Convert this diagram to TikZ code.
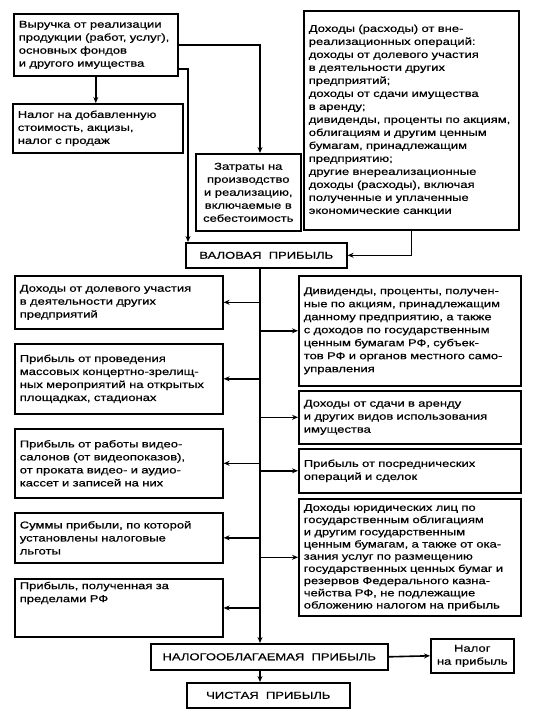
\documentclass[tikz,border=0pt]{standalone}
\usepackage{fontspec}
\setmainfont{Liberation Sans}[FakeStretch=1.3, FakeBold=0.6]
\usetikzlibrary{arrows.meta,positioning}

\newcommand{\boxfont}{\fontsize{10}{13}\selectfont}

\tikzset{
  % text box, lines set at the left
  infobox/.style={
    draw,
    line width=1.6pt,
    anchor=north west,
    align=left,
    inner xsep=5pt,
    inner ysep=3pt,
    font=\boxfont
  },
  % boxes of the left column
  leftbox/.style={
    infobox,
    text width=198pt,
    minimum width=208pt
  },
  % boxes of the right column
  rightbox/.style={
    infobox,
    text width=212pt,
    minimum width=222pt
  },
  % profit boxes, centred text
  sumbox/.style={
    draw,
    line width=1.6pt,
    anchor=north west,
    align=center,
    inner sep=3pt,
    font=\boxfont
  },
  % connector
  flow/.style={
    ->,
    >={Stealth[length=6pt, width=5pt]},
    line width=1.6pt
  }
}

\begin{document}
\begin{tikzpicture}[x=1pt, y=-1pt]
\useasboundingbox (0,0) rectangle (554,716);

%% === Sources of gross profit ===
\node[infobox, text width=154pt, minimum width=164pt, minimum height=62pt] (vyr) at (13,13)
  {Выручка от реализации\\продукции (работ, услуг),\\основных фондов\\и другого имущества};
\node[infobox, text width=160pt, minimum width=170pt, minimum height=49pt] (nds) at (12,103)
  {Налог на добавленную\\стоимость, акцизы,\\налог с продаж};
\node[sumbox, minimum width=105pt, minimum height=77pt] (zat) at (195,153)
  {Затраты на\\производство\\и реализацию,\\включаемые в\\себестоимость};
\node[infobox, text width=205pt, minimum width=215pt, minimum height=219pt] (doh) at (303,10)
  {Доходы (расходы) от вне-\\реализационных операций:\\доходы от долевого участия\\в деятельности других\\предприятий;\\доходы от сдачи имущества\\в аренду;\\дивиденды, проценты по акциям,\\облигациям и другим ценным\\бумагам, принадлежащим\\предприятию;\\другие внереализационные\\доходы (расходы), включая\\полученные и уплаченные\\экономические санкции};

\node[sumbox, minimum width=161pt, minimum height=25pt] (val) at (185,242) {ВАЛОВАЯ~~ПРИБЫЛЬ};

% trunk and side branch
\coordinate (trunk) at (260,0);
\coordinate (branch) at (188,0);

%% === Left column ===
\node[leftbox, minimum height=53pt] (l1) at (14,275)
  {Доходы от долевого участия\\в деятельности других\\предприятий};
\node[leftbox, minimum height=70pt] (l2) at (14,343)
  {Прибыль от проведения\\массовых концертно-зрелищ-\\ных мероприятий на открытых\\площадках, стадионах};
\node[leftbox, minimum height=69pt] (l3) at (14,428)
  {Прибыль от работы видео-\\салонов (от видеопоказов),\\от проката видео- и аудио-\\кассет и записей на них};
\node[leftbox, minimum height=50pt] (l4) at (14,512)
  {Суммы прибыли, по которой\\установлены налоговые\\льготы};
\node[leftbox, text depth=45pt] (l5) at (14,578)
  {Прибыль, полученная за\\пределами РФ};

%% === Right column ===
\node[rightbox, minimum height=110pt] (r1) at (298,275)
  {Дивиденды, проценты, получен-\\ные по акциям, принадлежащим\\данному предприятию, а также\\с доходов по государственным\\ценным бумагам РФ, субъек-\\тов РФ и органов местного само-\\управления};
\node[rightbox, minimum height=53pt] (r2) at (298,390)
  {Доходы от сдачи в аренду\\и других видов использования\\имущества};
\node[rightbox, minimum height=44pt] (r3) at (298,448)
  {Прибыль от посреднических\\операций и сделок};
\node[rightbox, minimum height=117pt, font=\fontsize{10}{12.2}\selectfont] (r4) at (298,498)
  {Доходы юридических лиц по\\государственным облигациям\\и другим государственным\\ценным бумагам, а также от ока-\\зания услуг по размещению\\государственных ценных бумаг и\\резервов Федерального казна-\\чейства РФ, не подлежащие\\обложению налогом на прибыль};

%% === Taxable and net profit ===
\node[sumbox, minimum width=237pt, minimum height=26pt] (nal) at (150,643) {НАЛОГООБЛАГАЕМАЯ~~ПРИБЫЛЬ};
\node[sumbox, minimum width=83pt, minimum height=34pt] (tax) at (430,638) {Налог\\на прибыль};
\node[sumbox, minimum width=163pt, minimum height=25pt] (chi) at (186,682) {ЧИСТАЯ~~ПРИБЫЛЬ};

%% === Connectors ===
\draw[flow] (vyr.south) -- (vyr.south |- nds.north);
\draw[flow] (vyr.east) -| (zat.north -| trunk);
\draw[flow] ([yshift=-24pt]vyr.east) -| (val.north -| branch);
\draw[flow] (doh.south) |- (val.east);
\draw[flow, line width=2pt] (val.south -| trunk) -- (nal.north -| trunk);
\foreach \b in {l1,l2,l3,l4,l5}
  \draw[flow] (\b.east -| trunk) -- (\b.east);
\foreach \b in {r1,r2,r3,r4}
  \draw[flow] (\b.west -| trunk) -- (\b.west);
\draw[flow] (nal.east) -- (tax.west);
\draw[flow] (nal.south -| trunk) -- (chi.north -| trunk);

\end{tikzpicture}
\end{document}
